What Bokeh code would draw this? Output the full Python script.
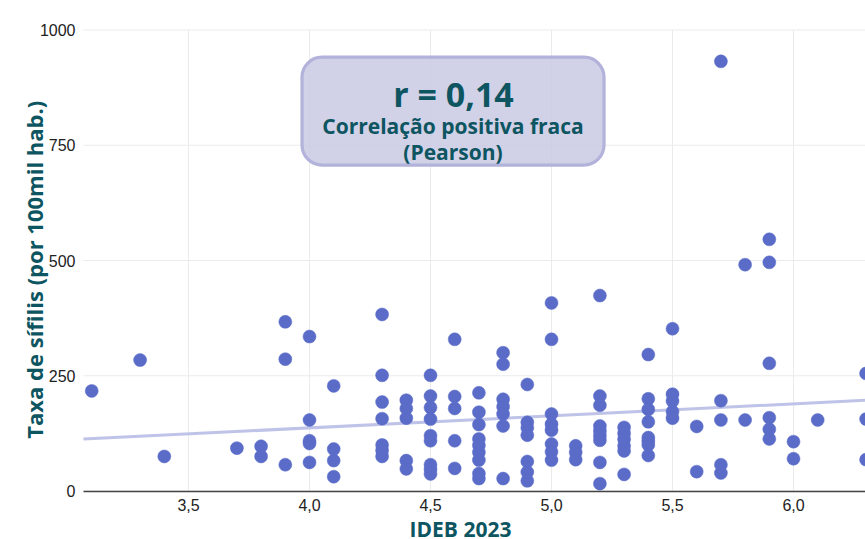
import math
import numpy as np
from bokeh.plotting import figure
from bokeh.models import Range1d, FixedTicker, BoxAnnotation, Label, CustomJSTickFormatter
from bokeh.embed import file_html
from bokeh.resources import INLINE

# ---- data (IDEB 2023 vs syphilis rate per 100k inhabitants) ----
ideb_values = (
    [3.1] + [3.3] + [3.4] + [3.7] + [3.8] * 2 + [3.9] * 3 + [4.0] * 5 + [4.1] * 4 +
    [4.3] * 7 + [4.4] * 5 + [4.5] * 9 + [4.6] * 5 + [4.7] * 9 + [4.8] * 7 +
    [4.9] * 7 + [5.0] * 8 + [5.1] * 3 + [5.2] * 9 + [5.3] * 6 + [5.4] * 8 +
    [5.5] * 5 + [5.6] * 2 + [5.7] * 5 + [5.8] * 2 + [5.9] * 6 + [6.0] * 2 +
    [6.1] + [6.3] * 3
)
sifilis_values = [
    217,
    284,
    75,
    93,
    97, 75,
    367, 286, 57,
    335, 154, 109, 103, 62,
    228, 91, 66, 31,
    383, 251, 193, 157, 100, 88, 75,
    197, 179, 158, 66, 48,
    251, 206, 181, 156, 120, 109, 57, 47, 37,
    329, 205, 179, 109, 49,
    213, 171, 144, 113, 99, 84, 67, 38, 27,
    300, 275, 199, 183, 167, 141, 27,
    231, 149, 137, 121, 64, 41, 22,
    408, 329, 167, 145, 132, 102, 85, 67,
    98, 84, 68,
    424, 206, 186, 141, 130, 120, 110, 62, 16,
    138, 125, 112, 98, 87, 36,
    296, 200, 177, 150, 116, 108, 100, 77,
    352, 210, 195, 172, 158,
    140, 42,
    932, 196, 154, 57, 39,
    491, 154,
    546, 496, 277, 159, 134, 113,
    107, 70,
    154,
    255, 156, 68,
]
x_ticks = [3.5, 4.0, 4.5, 5.0, 5.5, 6.0]
y_ticks = [0, 250, 500, 750, 1000]
r_text = "r = 0,14"
desc_line1 = "Correlação positiva fraca"
desc_line2 = "(Pearson)"
x_title = "IDEB 2023"
y_title = "Taxa de sífilis (por 100mil hab.)"

TEAL = "#0d5560"
DOT = "#5a6cc8"

x = np.array(ideb_values, dtype=float)
y = np.array(sifilis_values, dtype=float)
slope, intercept = np.polyfit(x, y, 1)

# plotting area: data area spans x_left..x_right and 0..1000,
# the frame is widened so the axis titles can be drawn inside it
x_left, x_right = 3.066, 6.2975
view_x = (2.7231, 6.2975)
view_y = (-105.2, 1064.0)

p = figure(
    width=865, height=539,
    x_range=Range1d(*view_x), y_range=Range1d(*view_y),
    output_backend="svg", toolbar_location=None,
    min_border_left=0, min_border_right=0, min_border_top=0, min_border_bottom=0,
)
p.outline_line_color = None
p.background_fill_color = "white"
p.border_fill_color = "white"
p.grid.visible = False

# grid lines limited to the data area
p.segment(x0=x_ticks, y0=[0] * len(x_ticks), x1=x_ticks, y1=[1000] * len(x_ticks),
          line_color="#ebebeb", line_width=1)
p.segment(x0=[x_left] * len(y_ticks), y0=y_ticks, x1=[x_right] * len(y_ticks), y1=y_ticks,
          line_color="#ebebeb", line_width=1)

# axes placed inside the frame
p.xaxis.fixed_location = 0
p.yaxis.fixed_location = x_left
p.xaxis.bounds = (x_left, x_right)
p.yaxis.bounds = (0, 1000)
p.xaxis.ticker = FixedTicker(ticks=x_ticks)
p.xaxis.formatter = CustomJSTickFormatter(code="return tick.toFixed(1).replace('.', ',');")
p.yaxis.ticker = FixedTicker(ticks=y_ticks)
for ax in (p.xaxis[0], p.yaxis[0]):
    ax.major_tick_line_color = None
    ax.minor_tick_line_color = None
    ax.major_tick_out = 0
    ax.major_tick_in = 0
    ax.minor_tick_out = 0
    ax.major_label_text_font = "Liberation Sans"
    ax.major_label_text_font_size = "16px"
    ax.major_label_text_color = "#222222"
p.yaxis.axis_line_color = None
p.xaxis.axis_line_color = "#444444"
p.xaxis.axis_line_width = 1.5
p.xaxis.major_label_standoff = 8
p.yaxis.major_label_standoff = 8

# trend line (least squares fit of the data)
p.line([x_left, x_right], [intercept + slope * x_left, intercept + slope * x_right],
       line_color="#bfc3e8", line_width=3)

# points
p.scatter(x, y, size=13, fill_color=DOT, line_color=DOT, line_width=0.5)

# annotation box
box = BoxAnnotation(left=3.969, right=5.217, bottom=707, top=941,
                    fill_color="#c9c9e4", fill_alpha=0.85,
                    line_color="#b2b2da", line_width=3.2, line_alpha=1.0,
                    border_radius=20)
p.add_layout(box)

label_style = dict(text_align="center", text_baseline="alphabetic",
                   text_font="Open Sans", text_font_style="bold", text_color=TEAL)
p.add_layout(Label(x=4.595, y=862, text=r_text, text_font_size="34px", **label_style))
p.add_layout(Label(x=4.593, y=791, text=desc_line1, text_font_size="21px", **label_style))
p.add_layout(Label(x=4.593, y=735, text=desc_line2, text_font_size="21px", **label_style))

# axis titles
p.add_layout(Label(x=4.624, y=-83.5, text=x_title, text_font_size="21px", **label_style))
p.add_layout(Label(x=2.862, y=480, text=y_title, text_font_size="22px",
                   angle=math.pi / 2, **label_style))

open("out.html", "w").write(file_html(p, INLINE))
